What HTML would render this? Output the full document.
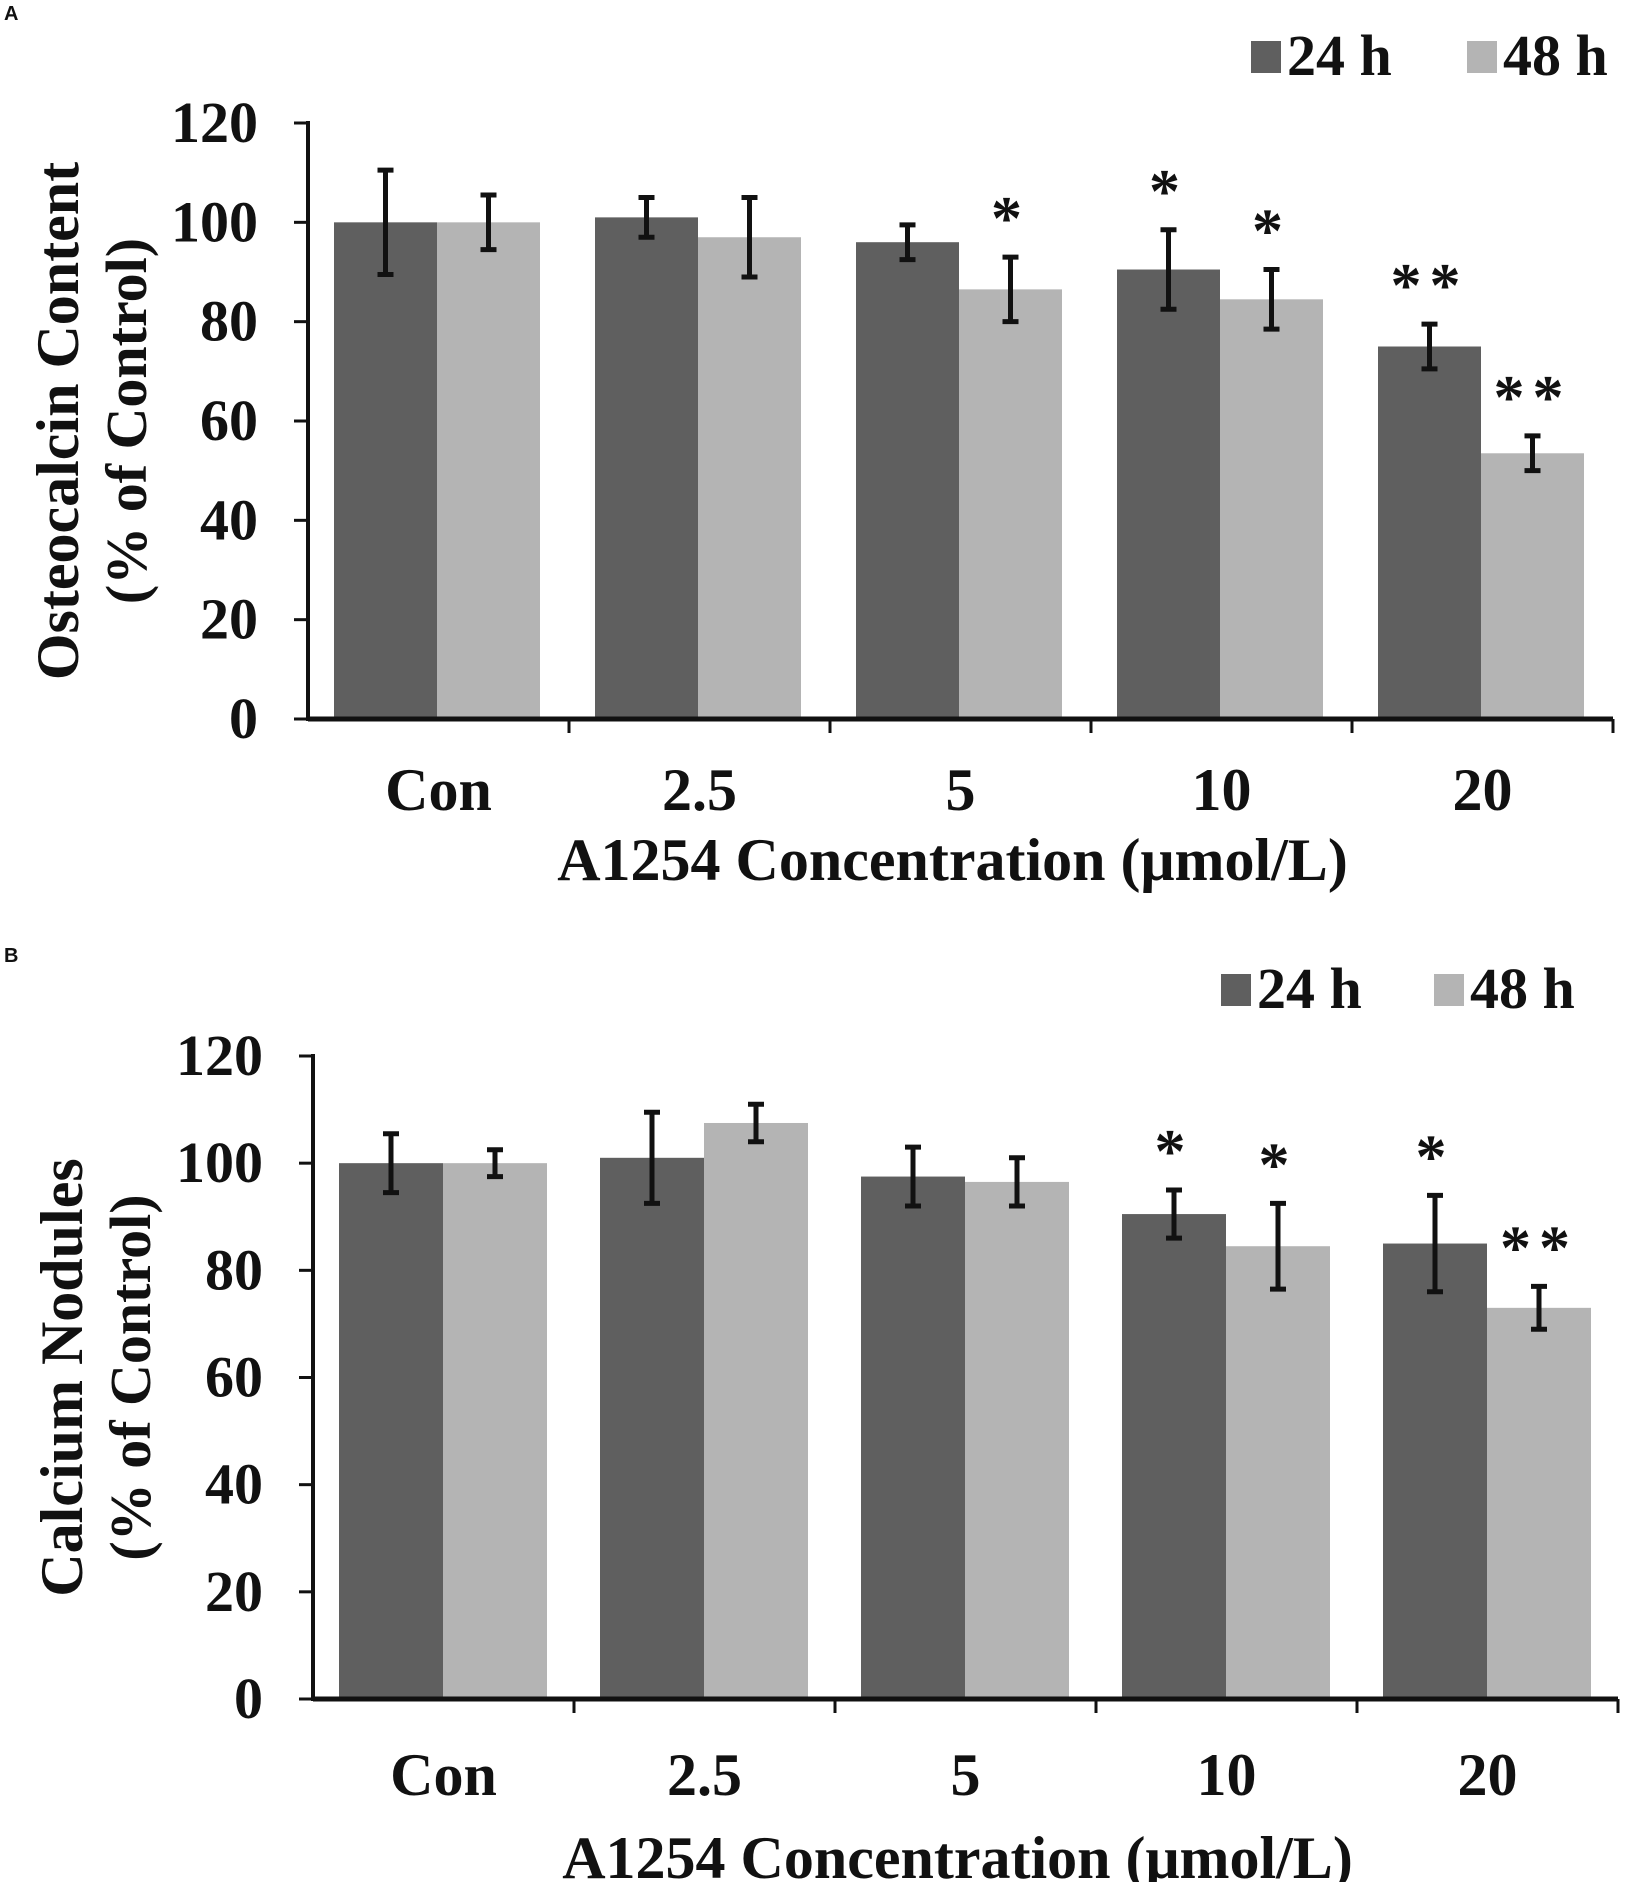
<!DOCTYPE html>
<html><head><meta charset="utf-8"><style>
body{margin:0;background:#fff}
svg{display:block}
text{font-family:"Liberation Serif",serif;font-weight:bold;fill:#111}
</style></head><body>
<svg id="fig" width="1625" height="1882" viewBox="0 0 1625 1882"></svg>
<script>
const categories=["Con","2.5","5","10","20"];
const yTicks=[0,20,40,60,80,100,120];
const aVals24=[100,101,96,90.5,75];
const aErr24=[10.5,4,3.5,8,4.5];
const aVals48=[100,97,86.5,84.5,53.5];
const aErr48=[5.5,8,6.5,6,3.5];
const aSig24=["","","","*","**"];
const aSig48=["","","*","*","**"];
const bVals24=[100,101,97.5,90.5,85];
const bErr24=[5.5,8.5,5.5,4.5,9];
const bVals48=[100,107.5,96.5,84.5,73];
const bErr48=[2.5,3.5,4.5,8,4];
const bSig24=["","","","*","*"];
const bSig48=["","","","*","**"];

const NS="http://www.w3.org/2000/svg";
const svg=document.getElementById('fig');
function mk(tag,attrs,parent,txt){const e=document.createElementNS(NS,tag);for(const k in attrs)e.setAttribute(k,attrs[k]);if(txt!==undefined)e.textContent=txt;(parent||svg).appendChild(e);return e;}

function panel(cfg){
  const g=mk('g',{});
  
  
  const x0=cfg.ax, y0=cfg.y0, y120=cfg.y120, gw=cfg.gw;
  const y=v=>y0-(v/120)*(y0-y120);
  const lt=mk('text',{x:4,y:cfg.letterY,'font-size':20,style:'font-family:"Liberation Sans",sans-serif'},g,cfg.letter);
  
  const lg=mk('g',{},g);
  
  [[cfg.legX1,'#5f5f5f','24 h'],[cfg.legX2,'#b4b4b4','48 h']].forEach(([lx,c,t])=>{
    const r=mk('rect',{x:lx,y:cfg.legY,width:30,height:32,fill:c},lg);
    
    const tt=mk('text',{x:lx+36,y:cfg.legY+34,'font-size':58},lg,t);
    
  });
  categories.forEach((c,i)=>{
    const gx=x0+i*gw;
    [[cfg.v24,cfg.e24,cfg.s24,'#5f5f5f',0],[cfg.v48,cfg.e48,cfg.s48,'#b4b4b4',1]].forEach(([v,e,s,col,k])=>{
      const bx=gx+cfg.pad+k*cfg.bw, cx=bx+cfg.bw/2;
      const r=mk('rect',{x:bx,y:y(v[i]),width:cfg.bw,height:y0-y(v[i]),fill:col},g);
      
      const eb=mk('path',{d:`M${cx},${y(v[i]+e[i])}V${y(v[i]-e[i])}M${cx-8},${y(v[i]+e[i])}H${cx+8}M${cx-8},${y(v[i]-e[i])}H${cx+8}`,stroke:'#111','stroke-width':5,fill:'none'},g);
      
      if(s[i]){const st=mk('text',{x:cx,y:y(v[i]+e[i])-18,'font-size':62,'text-anchor':'middle','letter-spacing':8},g,s[i]);
        }
    });
    const xl=mk('text',{x:gx+gw/2,y:cfg.xlY,'font-size':60,'text-anchor':'middle'},g,c);
    
    const tk=mk('line',{x1:gx+gw,x2:gx+gw,y1:y0,y2:y0+14,stroke:'#111','stroke-width':3},g);
    
  });
  yTicks.forEach(t=>{
    const l=mk('line',{x1:x0-14,x2:x0,y1:y(t),y2:y(t),stroke:'#111','stroke-width':3},g);
    
    const tl=mk('text',{x:x0-50,y:y(t)+19,'font-size':58,'text-anchor':'end'},g,t);
    
  });
  const ya=mk('line',{x1:x0,x2:x0,y1:y120-2,y2:y0+2,stroke:'#111','stroke-width':4},g);
  
  const xa=mk('line',{x1:x0,x2:x0+5*gw,y1:y0,y2:y0,stroke:'#111','stroke-width':5},g);
  
  const cy=(y0+y120)/2;
  const t1=mk('text',{x:0,y:0,'font-size':60,'text-anchor':'middle',transform:`translate(${cfg.ylx1},${cy}) rotate(-90)`},g,cfg.ylabel);
  
  const t2=mk('text',{x:0,y:0,'font-size':58,'text-anchor':'middle',transform:`translate(${cfg.ylx2},${cy}) rotate(-90)`},g,'(% of Control)');
  
  const xt=mk('text',{x:x0+2.5*gw-8,y:cfg.xtY,'font-size':60,'text-anchor':'middle'},g,'A1254 Concentration  (μmol/L)');
  
}
panel({name:'panel-a',letter:'A',letterY:20,ax:308,y0:719,y120:123,gw:261,pad:26,bw:103,
  v24:aVals24,e24:aErr24,v48:aVals48,e48:aErr48,s24:aSig24,s48:aSig48,
  legX1:1251,legX2:1467,legY:41,xlY:810,xtY:880,ylx1:78,ylx2:146,ylabel:'Osteocalcin Content'});
panel({name:'panel-b',letter:'B',letterY:962,ax:313,y0:1699,y120:1056,gw:261,pad:26,bw:104,
  v24:bVals24,e24:bErr24,v48:bVals48,e48:bErr48,s24:bSig24,s48:bSig48,
  legX1:1221,legX2:1434,legY:974,xlY:1795,xtY:1878,ylx1:82,ylx2:150,ylabel:'Calcium Nodules'});
</script>
</body></html>
